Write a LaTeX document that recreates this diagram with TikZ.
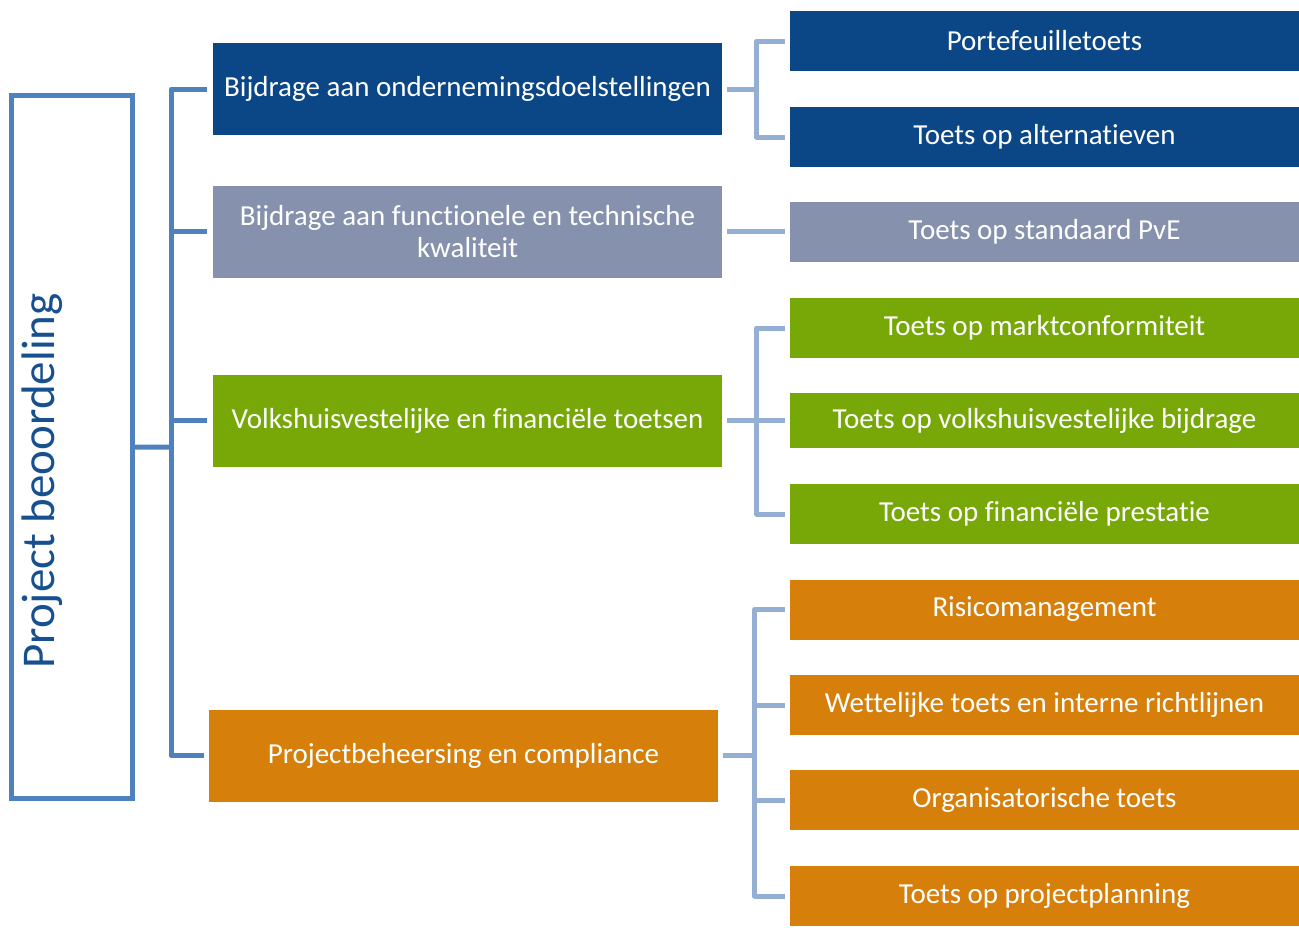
\documentclass[tikz,border=0pt]{standalone}
\usepackage{fontspec}
\setmainfont{Carlito}[Ligatures=CommonOff]
\usepackage{tikz}
\usetikzlibrary{positioning}

\definecolor{darkblue}{HTML}{0B4787}
\definecolor{greyblue}{HTML}{8591AD}
\definecolor{leafgreen}{HTML}{77A808}
\definecolor{burnt}{HTML}{D67F0A}
\definecolor{linkblue}{HTML}{4F81BD}
\definecolor{twigblue}{HTML}{95AED4}
\definecolor{titleblue}{HTML}{17508F}

\begin{document}
\begin{tikzpicture}[x=1pt,y=-1pt,
  every node/.style={inner sep=0pt,text=white,font=\fontsize{29}{32}\selectfont},
  mid/.style={minimum width=509pt,minimum height=92pt,align=center},
  leaf/.style={minimum width=509pt,minimum height=60pt},
  trunk/.style={draw=linkblue,line width=5pt,line join=round},
  twig/.style={draw=twigblue,line width=5pt,line join=round}]
  \useasboundingbox (0,0) rectangle (1299,927);

  % left box
  \node[draw=linkblue,line width=5pt,minimum width=121pt,minimum height=703pt] (root) at (71.5,447.25){};
  \node[rotate=90,text=titleblue,font=\fontsize{47}{52}\selectfont] (title) at (42.5,481){Project beoordeling};
  \coordinate (j) at (171,447);

  % first level
  \node[mid,fill=darkblue] (b1) at (467.5,89){Bijdrage aan ondernemingsdoelstellingen};
  \node[mid,fill=greyblue] (b2) at (467.5,231.5){Bijdrage aan functionele en technische\\kwaliteit};
  \node[mid,fill=leafgreen] (b3) at (467.5,420.5){Volkshuisvestelijke en financiële toetsen};
  \node[mid,fill=burnt] (b4) at (463.5,755.5){Projectbeheersing en compliance};

  % second level
  \node[leaf,fill=darkblue] (p1) at (1044.5,41){Portefeuilletoets};
  \node[leaf,fill=darkblue] (p2) at (1044.5,137){Toets op alternatieven};
  \node[leaf,fill=greyblue] (q1) at (1044.5,231.5){Toets op standaard PvE};
  \node[leaf,fill=leafgreen] (r1) at (1044.5,328){Toets op marktconformiteit};
  \node[leaf,fill=leafgreen,minimum height=55pt] (r2) at (1044.5,420.5){Toets op volkshuisvestelijke bijdrage};
  \node[leaf,fill=leafgreen] (r3) at (1044.5,514){Toets op financiële prestatie};
  \node[leaf,fill=burnt] (s1) at (1044.5,609.5){Risicomanagement};
  \node[leaf,fill=burnt] (s2) at (1044.5,705){Wettelijke toets en interne richtlijnen};
  \node[leaf,fill=burnt] (s3) at (1044.5,800){Organisatorische toets};
  \node[leaf,fill=burnt] (s4) at (1044.5,896){Toets op projectplanning};

  \coordinate (k1) at (756.5,89);
  \coordinate (k3) at (756.5,420.5);
  \coordinate (k4) at (754.5,755.5);

  % trunk
  \draw[trunk](root)--(j);
  \draw[trunk,shorten >=6pt](j)|-(b1);
  \draw[trunk,shorten >=6pt](j)|-(b2);
  \draw[trunk,shorten >=6pt](j)|-(b3);
  \draw[trunk,shorten >=5pt](j)|-(b4);

  % twigs
  \draw[twig,shorten <=5pt](b1)--(k1);
  \draw[twig,shorten >=5pt](k1)|-(p1);
  \draw[twig,shorten >=5pt](k1)|-(p2);
  \draw[twig,shorten <=5pt,shorten >=5pt](b2)--(q1);
  \draw[twig,shorten <=5pt](b3)--(k3);
  \draw[twig,shorten >=5pt](k3)|-(r1);
  \draw[twig,shorten >=5pt](k3)--(r2);
  \draw[twig,shorten >=5pt](k3)|-(r3);
  \draw[twig,shorten <=5pt](b4)--(k4);
  \draw[twig,shorten >=5pt](k4)|-(s1);
  \draw[twig,shorten >=5pt](k4)|-(s2);
  \draw[twig,shorten >=5pt](k4)|-(s3);
  \draw[twig,shorten >=5pt](k4)|-(s4);
\end{tikzpicture}
\end{document}
